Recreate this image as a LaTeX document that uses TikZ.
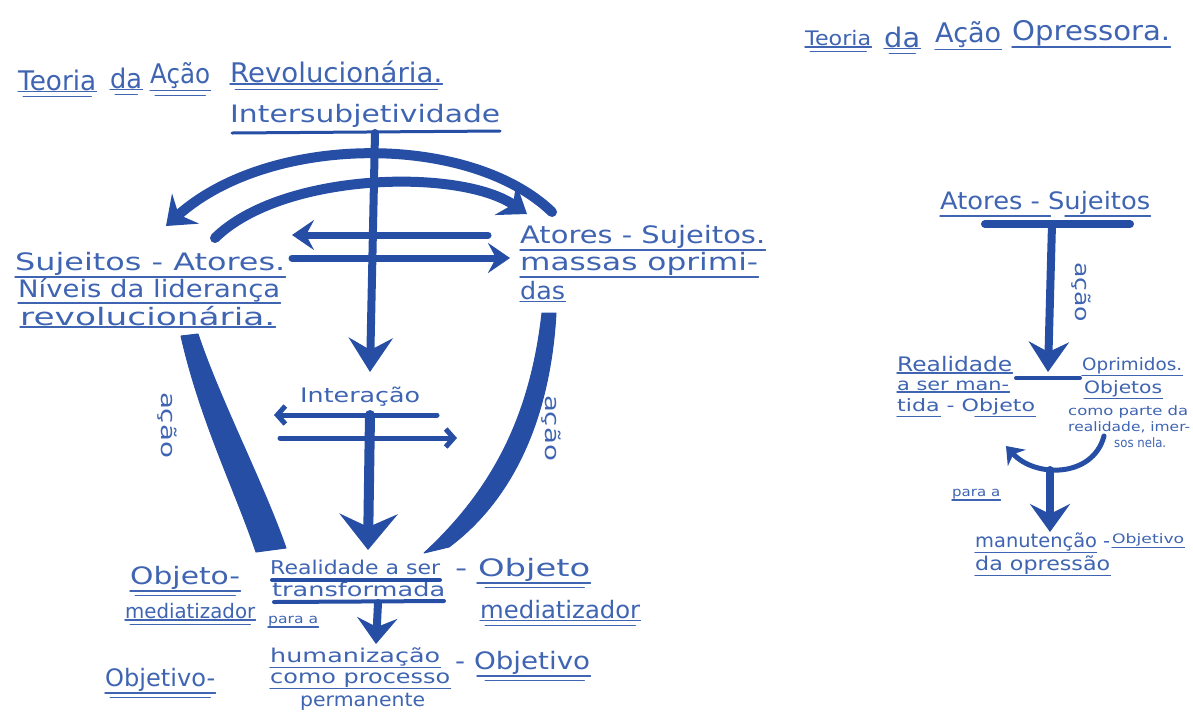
\documentclass[tikz,border=0pt]{standalone}
\usepackage{fontspec}
\setmainfont{DejaVu Sans}
\usetikzlibrary{arrows.meta}
\definecolor{ink}{RGB}{62,100,178}
\definecolor{pen}{RGB}{38,78,165}
\newcommand{\hwt}[2]{\resizebox{#1pt}{\height}{#2}}
\newcommand{\ulu}[1]{\draw[ul] ([yshift=-1pt]#1.south west) -- ([yshift=-1pt]#1.south east);}
\newcommand{\uld}[1]{\ulu{#1}\draw[ul,line width=1pt] ([xshift=5pt,yshift=-6pt]#1.south west) -- ([xshift=-5pt,yshift=-6pt]#1.south east);}
\tikzset{
  hw/.style={text=ink, inner sep=0pt, anchor=west, font=\fontsize{24}{26}\selectfont},
  hwT/.style={hw, font=\fontsize{27}{29}\selectfont},
  hwm/.style={hw, font=\fontsize{19}{21}\selectfont},
  hws/.style={hw, font=\fontsize{20}{22}\selectfont},
  hwr/.style={hw, font=\fontsize{17}{19}\selectfont},
  hwx/.style={hw, font=\fontsize{13}{14}\selectfont},
  ul/.style={draw=ink, line width=1.5pt, line cap=round},
  pen/.style={draw=pen, line cap=round},
  wedge/.style={fill=pen, draw=pen, line width=1pt, line join=round}
}
\begin{document}
\begin{tikzpicture}[x=1pt,y=-1pt]
\useasboundingbox (0,0) rectangle (1193,713);
\fill[white] (0,0) rectangle (1193,713);

% ---------- left title
\node[hwT] (tA) at (18,80) {\hwt{78}{Teoria}};
\node[hwT] (tB) at (110,78) {\hwt{32}{da}};
\node[hwT] (tC) at (150,76) {\hwt{60}{Ação}};
\node[hwT] (tD) at (230,72) {\hwt{212}{Revolucionária.}};
\uld{tA}\uld{tB}\uld{tC}\uld{tD}

% ---------- right title
\node[hws] (rA) at (805,38) {\hwt{66}{Teoria}};
\node[hwT] (rB) at (884,37) {\hwt{36}{da}};
\node[hwT] (rC) at (935,35) {\hwt{66}{Ação}};
\node[hwT] (rD) at (1012,33) {\hwt{158}{Opressora.}};
\uld{rA}\uld{rB}\ulu{rC}\ulu{rD}

% ---------- left diagram
\node[hw] (inter) at (230,116) {\hwt{270}{Intersubjetividade}};
\draw[pen, line width=3pt] (232,133) -- (500,131);

\node[hw] (sa1) at (15,264) {\hwt{270}{Sujeitos - Atores.}};
\node[hw] (sa2) at (18,290) {\hwt{262}{Níveis da liderança}};
\node[hw] (sa3) at (20,316) {\hwt{255}{revolucionária.}};
\ulu{sa1}\ulu{sa2}\ulu{sa3}

\node[hw] (as1) at (520,237) {\hwt{245}{Atores - Sujeitos.}};
\node[hw] (as2) at (520,264) {\hwt{238}{massas oprimi-}};
\node[hw] (as3) at (520,291) {\hwt{45}{das}};
\ulu{as1}\ulu{as2}\ulu{as3}

\coordinate (top) at (375,133);
% arcs
\draw[pen, line width=10pt, -{Stealth[length=26pt,width=40pt,inset=9pt]}]
  (552,212) .. controls (470,133) and (270,133) .. (166,226);
\draw[pen, line width=10pt, -{Stealth[length=26pt,width=38pt,inset=9pt]}]
  (215,238) .. controls (282,172) and (460,168) .. (527,214);
% straight arrows
\draw[pen, line width=7pt, -{Stealth[length=22pt,width=30pt,inset=8pt]}] (488,235) -- (292,235);
\draw[pen, line width=7pt, -{Stealth[length=22pt,width=30pt,inset=8pt]}] (292,258) -- (510,258);
% central vertical
\coordinate (c1) at (370,372);
\draw[pen, line width=8pt, -{Stealth[length=34pt,width=44pt,inset=12pt]}] (top) -- (c1);

% interaction
\node[hws] (inta) at (300,397) {\hwt{120}{Interação}};
\draw[pen, line width=5pt, -{Straight Barb[length=8pt,width=18pt]}] (437,415) -- (274,415);
\draw[pen, line width=5pt, -{Straight Barb[length=8pt,width=18pt]}] (280,438) -- (457,438);
\coordinate (i0) at (370,415);
\coordinate (i1) at (368,550);
\draw[pen, line width=10pt, -{Stealth[length=36pt,width=58pt,inset=13pt]}] (i0) -- (i1);

% wedges (acao)
\fill[wedge] (181,336) .. controls (200,420) and (235,490) .. (256,552)
   -- (286,548) .. controls (262,480) and (220,400) .. (198,334) -- cycle;
\fill[wedge] (556,313) .. controls (550,420) and (512,500) .. (449,547)
   -- (424,553) .. controls (490,492) and (530,420) .. (542,313) -- cycle;
\node[hws, anchor=center, rotate=-90] (acL) at (167,425) {\hwt{66}{ação}};
\node[hws, anchor=center, rotate=-90] (acR) at (551,428) {\hwt{66}{ação}};

% bottom texts
\node[hwm] (rs1) at (270,567) {\hwt{170}{Realidade a ser}};
\node[hwm] (rs2) at (272,589) {\hwt{173}{transformada}};
\draw[pen, line width=4pt] (272,580) -- (440,580);
\draw[pen, line width=4pt] (274,602) -- (444,601);
\node[hwx] (pa1) at (268,621) {\hwt{50}{para a}};
\ulu{pa1}
\coordinate (b0) at (378,603);
\coordinate (b1) at (376,644);
\draw[pen, line width=8pt, -{Stealth[length=26pt,width=40pt,inset=9pt]}] (b0) -- (b1);

\node[hw] (om1) at (130,578) {\hwt{110}{Objeto-}};
\node[hws] (om2) at (125,611) {\hwt{130}{mediatizador}};
\uld{om1}\uld{om2}
\node[hw] (om3) at (455,570) {\hwt{135}{- Objeto}};
\node[hw] (om4) at (480,610) {\hwt{160}{mediatizador}};
\draw[ul] ([xshift=22pt,yshift=-1pt]om3.south west) -- ([yshift=-1pt]om3.south east);
\draw[ul,line width=1pt] ([xshift=30pt,yshift=-6pt]om3.south west) -- ([xshift=-6pt,yshift=-6pt]om3.south east);
\uld{om4}

\node[hwm] (hu1) at (270,657) {\hwt{170}{humanização}};
\node[hwm] (hu2) at (270,680) {\hwt{180}{como processo}};
\node[hwm] (hu3) at (300,702) {\hwt{125}{permanente}};
\ulu{hu1}\ulu{hu2}

\node[hw] (ob1) at (105,680) {\hwt{110}{Objetivo-}};
\node[hw] (ob2) at (455,663) {\hwt{135}{- Objetivo}};
\uld{ob1}
\draw[ul] ([xshift=22pt,yshift=-1pt]ob2.south west) -- ([yshift=-1pt]ob2.south east);
\draw[ul,line width=1pt] ([xshift=30pt,yshift=-6pt]ob2.south west) -- ([xshift=-6pt,yshift=-6pt]ob2.south east);

% ---------- right diagram
\node[hw] (ras) at (940,203) {\hwt{210}{Atores - Sujeitos}};
\draw[ul] ([yshift=-1pt]ras.south west) -- ([xshift=-100pt,yshift=-1pt]ras.south east);
\draw[ul] ([xshift=125pt,yshift=-1pt]ras.south west) -- ([yshift=-1pt]ras.south east);
\draw[pen, line width=8pt] (985,224) -- (1130,224);
\coordinate (r0) at (1052,224);
\coordinate (r1) at (1048,372);
\draw[pen, line width=8pt, -{Stealth[length=30pt,width=40pt,inset=10pt]}] (r0) -- (r1);
\node[hws, anchor=center, rotate=-90] (acR2) at (1081,292) {\hwt{60}{ação}};

\node[hws] (re1) at (897,364) {\hwt{115}{Realidade}};
\node[hwr] (re2) at (897,386) {\hwt{112}{a ser man-}};
\node[hwr] (re3) at (897,407) {\hwt{138}{tida - Objeto}};
\ulu{re1}\ulu{re2}
\draw[ul] ([yshift=-1pt]re3.south west) -- ([xshift=-95pt,yshift=-1pt]re3.south east);
\draw[ul] ([xshift=78pt,yshift=-1pt]re3.south west) -- ([yshift=-1pt]re3.south east);
\coordinate (d0) at (1016,378);
\coordinate (d1) at (1080,378);
\draw[pen, line width=4pt] (d0) -- (d1);

\node[hwr] (op1) at (1082,366) {\hwt{100}{Oprimidos.}};
\node[hwr] (op2) at (1084,389) {\hwt{78}{Objetos}};
\ulu{op1}\ulu{op2}
\node[hwx] (cp1) at (1068,412) {\hwt{120}{como parte da}};
\node[hwx] (cp2) at (1068,427) {\hwt{122}{realidade, imer-}};
\node[hwx] (cp3) at (1114,443) {\hwt{52}{sos nela.}};

\coordinate (k0) at (1104,436);
\coordinate (k1) at (1006,446);
\draw[pen, line width=5pt, -{Stealth[length=16pt,width=24pt,inset=5pt]}]
  (k0) .. controls (1093,478) and (1035,478) .. (k1);
\coordinate (m0) at (1050,470);
\coordinate (m1) at (1050,532);
\draw[pen, line width=8pt, -{Stealth[length=28pt,width=40pt,inset=10pt]}] (m0) -- (m1);
\node[hwx] (pa2) at (952,494) {\hwt{48}{para a}};
\ulu{pa2}

\node[hwm] (mn1) at (975,542) {\hwt{135}{manutenção -}};
\node[hwx] (mn2) at (1112,540) {\hwt{72}{Objetivo}};
\node[hwm] (mn3) at (975,565) {\hwt{135}{da opressão}};
\draw[ul] ([yshift=-1pt]mn1.south west) -- ([xshift=-14pt,yshift=-1pt]mn1.south east);
\ulu{mn2}\ulu{mn3}
\end{tikzpicture}
\end{document}
